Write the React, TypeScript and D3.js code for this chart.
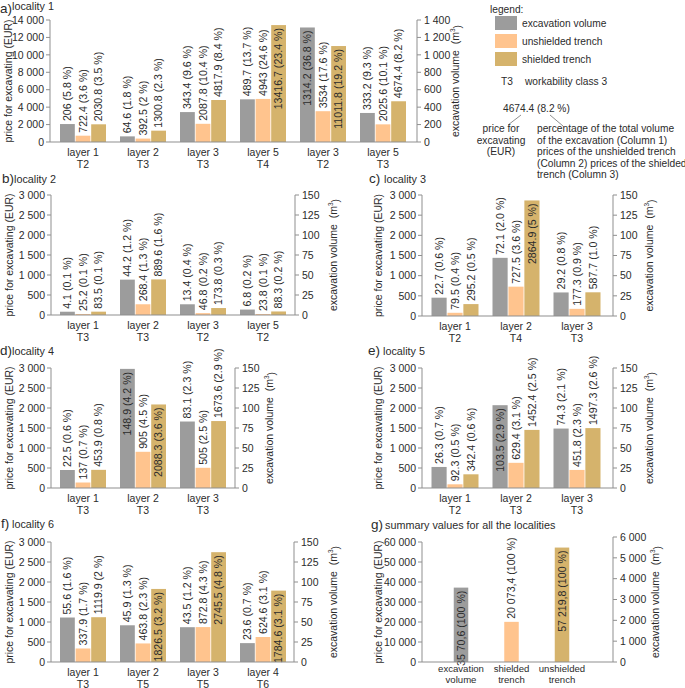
import React from 'react';
import * as d3 from 'd3';

const GRAY = '#9c9c9c';
const ORANGE = '#ffc48e';
const GOLD = '#d5b36c';
const AXIS = '#8f8f8f';
const TXT = '#2b2b2b';
const FONT = "'Liberation Sans', Arial, Helvetica, sans-serif";
const NARROW = "'Liberation Sans Narrow', 'Arial Narrow', 'Liberation Sans', sans-serif";

// ---------- panel a: locality 1
const aLayers = ['layer 1', 'layer 2', 'layer 3', 'layer 5', 'layer 3', 'layer 5'];
const aClasses = ['T2', 'T3', 'T3', 'T4', 'T2', 'T3'];
const aVolume = [206, 64.6, 343.4, 489.7, 1314.2, 333.2];
const aVolumePct = ['5.8', '1.8', '9.6', '13.7', '36.8', '9.3'];
const aUnshielded = [722.4, 392.5, 2087.8, 4943, 3534, 2025.6];
const aUnshieldedPct = ['3.6', '2', '10.4', '24.6', '17.6', '10.1'];
const aShielded = [2030.8, 1300.8, 4817.9, 13416.7, 11011.8, 4674.4];
const aShieldedPct = ['3.5', '2.3', '8.4', '23.4', '19.2', '8.2'];

// ---------- panel b: locality 2
const bLayers = ['layer 1', 'layer 2', 'layer 3', 'layer 5'];
const bClasses = ['T3', 'T3', 'T2', 'T2'];
const bVolume = [4.1, 44.2, 13.4, 6.8];
const bVolumePct = ['0.1', '1.2', '0.4', '0.2'];
const bUnshielded = [25.2, 268.4, 46.8, 23.8];
const bUnshieldedPct = ['0.1', '1.3', '0.2', '0.1'];
const bShielded = [83.5, 889.6, 173.8, 88.3];
const bShieldedPct = ['0.1', '1.6', '0.3', '0.2'];

// ---------- panel c: locality 3
const cLayers = ['layer 1', 'layer 2', 'layer 3'];
const cClasses = ['T2', 'T4', 'T3'];
const cVolume = [22.7, 72.1, 29.2];
const cVolumePct = ['0.6', '2.0', '0.8'];
const cUnshielded = [79.5, 727.5, 177.3];
const cUnshieldedPct = ['0.4', '3.6', '0.9'];
const cShielded = [295.2, 2864.9, 587.7];
const cShieldedPct = ['0.5', '5', '1.0'];

// ---------- panel d: locality 4
const dLayers = ['layer 1', 'layer 2', 'layer 3'];
const dClasses = ['T3', 'T3', 'T3'];
const dVolume = [22.5, 148.9, 83.1];
const dVolumePct = ['0.6', '4.2', '2.3'];
const dUnshielded = [137, 905, 505];
const dUnshieldedPct = ['0.7', '4.5', '2.5'];
const dShielded = [453.9, 2088.3, 1673.6];
const dShieldedPct = ['0.8', '3.6', '2.9'];

// ---------- panel e: locality 5
const eLayers = ['layer 1', 'layer 2', 'layer 3'];
const eClasses = ['T2', 'T3', 'T3'];
const eVolume = [26.3, 103.5, 74.3];
const eVolumePct = ['0.7', '2.9', '2.1'];
const eUnshielded = [92.3, 629.4, 451.8];
const eUnshieldedPct = ['0.5', '3.1', '2.3'];
const eShielded = [342.4, 1452.4, 1497.3];
const eShieldedPct = ['0.6', '2.5', '2.6'];

// ---------- panel f: locality 6
const fLayers = ['layer 1', 'layer 2', 'layer 3', 'layer 4'];
const fClasses = ['T3', 'T5', 'T5', 'T6'];
const fVolume = [55.6, 45.9, 43.5, 23.6];
const fVolumePct = ['1.6', '1.3', '1.2', '0.7'];
const fUnshielded = [337.9, 463.8, 872.8, 624.6];
const fUnshieldedPct = ['1.7', '2.3', '4.3', '3.1'];
const fShielded = [1119.9, 1826.5, 2745.5, 1784.6];
const fShieldedPct = ['2', '3.2', '4.8', '3.1'];

// ---------- panel g: summary
const gCategories = [['excavation', 'volume'], ['shielded', 'trench'], ['unshielded', 'trench']];
const gValues = [3570.6, 20073.4, 57219.8];
const gLabels = ['35 70,6 (100 %)', '20 073,4 (100 %)', '57 219,8 (100 %)'];

const fmt = (v: number) => d3.format(',')(v).replace(/,/g, ' ');

function RotLabel({ x, y, text, inside }: any) {
  return (
    <text
      transform={`translate(${x},${y}) rotate(-90)`}
      dy="0.36em"
      textAnchor={inside ? 'end' : 'start'}
      fontSize={10.6}
      fill={TXT}
    >
      {text}
    </text>
  );
}

function Axes({ x0, x1, yl, yr, leftTicks, rightTicks, yTitleX, rTitleX, yTop, yBase }: any) {
  const mid = (yTop + yBase) / 2;
  return (
    <g>
      <line x1={x0} x2={x0} y1={yl.range()[1]} y2={yl.range()[0]} stroke={AXIS} />
      <line x1={x1} x2={x1} y1={yr.range()[1]} y2={yr.range()[0]} stroke={AXIS} />
      <line x1={x0} x2={x1} y1={yBase} y2={yBase} stroke={AXIS} />
      {leftTicks.map((t: number) => (
        <g key={'l' + t}>
          <line x1={x0 - 4} x2={x0} y1={yl(t)} y2={yl(t)} stroke={AXIS} />
          <text x={x0 - 6} y={yl(t)} dy="0.35em" textAnchor="end" fontSize={10.5} fontFamily={NARROW} fill={TXT}>
            {fmt(t)}
          </text>
        </g>
      ))}
      {rightTicks.map((t: number) => (
        <g key={'r' + t}>
          <line x1={x1} x2={x1 + 4} y1={yr(t)} y2={yr(t)} stroke={AXIS} />
          <text x={x1 + 7} y={yr(t)} dy="0.35em" textAnchor="start" fontSize={10.5} fontFamily={NARROW} fill={TXT}>
            {fmt(t)}
          </text>
        </g>
      ))}
      <text transform={`translate(${yTitleX},${mid}) rotate(-90)`} dy="0.35em" textAnchor="middle" fontSize={10.5} fill={TXT}>
        price for excavating (EUR)
      </text>
      <text transform={`translate(${rTitleX},${mid}) rotate(-90)`} dy="0.35em" textAnchor="middle" fontSize={10.5} fill={TXT}>
        excavation volume{'\u00a0\u00a0'}(m<tspan fontSize={6.5} dy="-0.6em">3</tspan>
        <tspan dy="0.6em">)</tspan>
      </text>
    </g>
  );
}

function Title({ letter, title, lx, ly, tx, ty }: any) {
  return (
    <g fill={TXT}>
      <text x={lx} y={ly} fontSize={13.5}>{letter}</text>
      <text x={tx} y={ty ?? ly} fontSize={10.8}>{title}</text>
    </g>
  );
}

function Panel(p: any) {
  const yl = d3.scaleLinear().domain([0, p.leftMax]).range([p.yBase, p.yTop]);
  const yr = d3.scaleLinear().domain([0, p.rightMax]).range([p.yBase, p.yTop]);
  const n = p.layers.length;
  const start = p.firstCenter - p.step / 2;
  const x = d3.scaleBand<number>().domain(d3.range(n)).range([start, start + n * p.step]).padding(0);
  const inner = d3.scaleBand<string>().domain(['v', 'u', 's']).range([-p.groupW / 2, p.groupW / 2]).paddingInner(0.05);
  const H = p.yBase - p.yTop;
  const leftTicks = d3.range(0, p.leftMax + 1e-9, p.leftStep);
  const rightTicks = d3.range(0, p.rightMax + 1e-9, p.rightStep);
  const marks: any[] = [];
  for (let i = 0; i < n; i++) {
    const c = (x(i) as number) + x.bandwidth() / 2;
    const items = [
      { k: 'v', val: p.volume[i], pct: p.volumePct[i], top: yr(p.volume[i]), color: GRAY },
      { k: 'u', val: p.unshielded[i], pct: p.unshieldedPct[i], top: yl(p.unshielded[i]), color: ORANGE },
      { k: 's', val: p.shielded[i], pct: p.shieldedPct[i], top: yl(p.shielded[i]), color: GOLD },
    ];
    items.forEach((it) => {
      const bx = c + (inner(it.k) as number);
      const bw = inner.bandwidth();
      const inside = (p.yBase - it.top) / H > 0.575;
      marks.push(
        <g key={i + it.k}>
          <rect x={bx} y={it.top} width={bw} height={p.yBase - it.top} fill={it.color} />
          <RotLabel x={bx + bw / 2} y={inside ? it.top + 3 : it.top - 3} inside={inside} text={`${it.val} (${it.pct} %)`} />
        </g>
      );
    });
    marks.push(
      <g key={'cat' + i} fill={TXT} fontSize={10.5} textAnchor="middle">
        <text x={c} y={p.yBase + 14}>{p.layers[i]}</text>
        <text x={c} y={p.yBase + 25.5}>{p.classes[i]}</text>
      </g>
    );
  }
  return (
    <g>
      <Title letter={p.letter} title={p.title} lx={p.lx} ly={p.ly} tx={p.tx} ty={p.ty} />
      {marks}
      <Axes x0={p.x0} x1={p.x1} yl={yl} yr={yr} leftTicks={leftTicks} rightTicks={rightTicks} yTitleX={p.yTitleX} rTitleX={p.rTitleX} yTop={p.yTop} yBase={p.yBase} />
    </g>
  );
}

function PanelG() {
  const x0 = 422, x1 = 613, yTop = 542, yBase = 662;
  const yl = d3.scaleLinear().domain([0, 60000]).range([yBase, yTop]);
  const yr = d3.scaleLinear().domain([0, 6000]).range([yBase, 537]);
  const x = d3.scalePoint<number>().domain([0, 1, 2]).range([461, 562]);
  const bw = 14.5;
  const H = yBase - yTop;
  return (
    <g>
      <Title letter="g)" title="summary values for all the localities" lx={371} ly={529} tx={385} />
      {gValues.map((v, i) => {
        const c = x(i) as number;
        const top = i === 0 ? yr(v) : yl(v);
        const inside = (yBase - top) / H > 0.575;
        const color = [GRAY, ORANGE, GOLD][i];
        return (
          <g key={i}>
            <rect x={c - bw / 2} y={top} width={bw} height={yBase - top} fill={color} />
            <RotLabel x={c} y={inside ? top + 3 : top - 3} inside={inside} text={gLabels[i]} />
            <text x={c} y={yBase + 9.5} textAnchor="middle" fontSize={9.6} fill={TXT}>{gCategories[i][0]}</text>
            <text x={c} y={yBase + 20.5} textAnchor="middle" fontSize={9.6} fill={TXT}>{gCategories[i][1]}</text>
          </g>
        );
      })}
      <Axes x0={x0} x1={x1} yl={yl} yr={yr} leftTicks={d3.range(0, 60001, 10000)} rightTicks={d3.range(0, 6001, 1000)} yTitleX={378} rTitleX={655} yTop={yTop} yBase={yBase} />
    </g>
  );
}

function Legend() {
  const items = [
    ['excavation volume', GRAY],
    ['unshielded trench', ORANGE],
    ['shielded trench', GOLD],
  ];
  const rightLines = [
    'percentage of the total volume',
    'of the excavation (Column 1)',
    'prices of the unshielded trench',
    '(Column 2) prices of the shielded',
    'trench (Column 3)',
  ];
  const leftLines = ['price for', 'excavating', '(EUR)'];
  return (
    <g fill={TXT} fontSize={10.2}>
      <text x={490} y={13}>legend:</text>
      {items.map(([t, c], i) => (
        <g key={t}>
          <rect x={495} y={16 + i * 18} width={22} height={14} fill={c} />
          <text x={522} y={27 + i * 18}>{t}</text>
        </g>
      ))}
      <text x={501} y={85}>T3</text>
      <text x={525} y={85}>workability class 3</text>
      <text x={503} y={112}>4674.4 (8.2 %)</text>
      <line x1={521} y1={115} x2={508} y2={125} stroke={AXIS} />
      <line x1={550} y1={115} x2={563} y2={126} stroke={AXIS} />
      {leftLines.map((t, i) => (
        <text key={t} x={501} y={132 + i * 11.6} textAnchor="middle">{t}</text>
      ))}
      {rightLines.map((t, i) => (
        <text key={t} x={537} y={132 + i * 11.6}>{t}</text>
      ))}
    </g>
  );
}

export default function App() {
  return (
    <svg width={685} height={688} style={{ position: 'absolute', left: 0, top: 0, background: '#fff' }} fontFamily={FONT}>
      <rect width={685} height={688} fill="#fff" />
      <Panel letter="a)" title="locality 1" lx={0} ly={13} tx={12} ty={10}
        layers={aLayers} classes={aClasses}
        volume={aVolume} volumePct={aVolumePct} unshielded={aUnshielded} unshieldedPct={aUnshieldedPct} shielded={aShielded} shieldedPct={aShieldedPct}
        x0={50} x1={417} yTop={20} yBase={142} leftMax={14000} leftStep={2000} rightMax={1400} rightStep={200}
        firstCenter={83} step={60} groupW={46} yTitleX={8} rTitleX={455} />
      <Panel letter="b)" title="locality 2" lx={2} ly={183} tx={14}
        layers={bLayers} classes={bClasses}
        volume={bVolume} volumePct={bVolumePct} unshielded={bUnshielded} unshieldedPct={bUnshieldedPct} shielded={bShielded} shieldedPct={bShieldedPct}
        x0={51} x1={295} yTop={195} yBase={315} leftMax={3000} leftStep={500} rightMax={150} rightStep={25}
        firstCenter={83} step={60} groupW={46} yTitleX={9} rTitleX={333} />
      <Panel letter="c)" title="locality 3" lx={369} ly={183} tx={384}
        layers={cLayers} classes={cClasses}
        volume={cVolume} volumePct={cVolumePct} unshielded={cUnshielded} unshieldedPct={cUnshieldedPct} shielded={cShielded} shieldedPct={cShieldedPct}
        x0={422} x1={613} yTop={195} yBase={316} leftMax={3000} leftStep={500} rightMax={150} rightStep={25}
        firstCenter={455} step={61} groupW={47} yTitleX={378} rTitleX={649} />
      <Panel letter="d)" title="locality 4" lx={0} ly={355} tx={12}
        layers={dLayers} classes={dClasses}
        volume={dVolume} volumePct={dVolumePct} unshielded={dUnshielded} unshieldedPct={dUnshieldedPct} shielded={dShielded} shieldedPct={dShieldedPct}
        x0={51} x1={235} yTop={368} yBase={488} leftMax={3000} leftStep={500} rightMax={150} rightStep={25}
        firstCenter={83} step={60} groupW={46} yTitleX={9} rTitleX={269} />
      <Panel letter="e)" title="locality 5" lx={368} ly={355} tx={383}
        layers={eLayers} classes={eClasses}
        volume={eVolume} volumePct={eVolumePct} unshielded={eUnshielded} unshieldedPct={eUnshieldedPct} shielded={eShielded} shieldedPct={eShieldedPct}
        x0={422} x1={613} yTop={368} yBase={488} leftMax={3000} leftStep={500} rightMax={150} rightStep={25}
        firstCenter={455} step={61} groupW={47} yTitleX={378} rTitleX={649} />
      <Panel letter="f)" title="locality 6" lx={1} ly={528} tx={12}
        layers={fLayers} classes={fClasses}
        volume={fVolume} volumePct={fVolumePct} unshielded={fUnshielded} unshieldedPct={fUnshieldedPct} shielded={fShielded} shieldedPct={fShieldedPct}
        x0={51} x1={294} yTop={542} yBase={662} leftMax={3000} leftStep={500} rightMax={150} rightStep={25}
        firstCenter={83} step={60} groupW={46} yTitleX={9} rTitleX={333} />
      <PanelG />
      <Legend />
    </svg>
  );
}
